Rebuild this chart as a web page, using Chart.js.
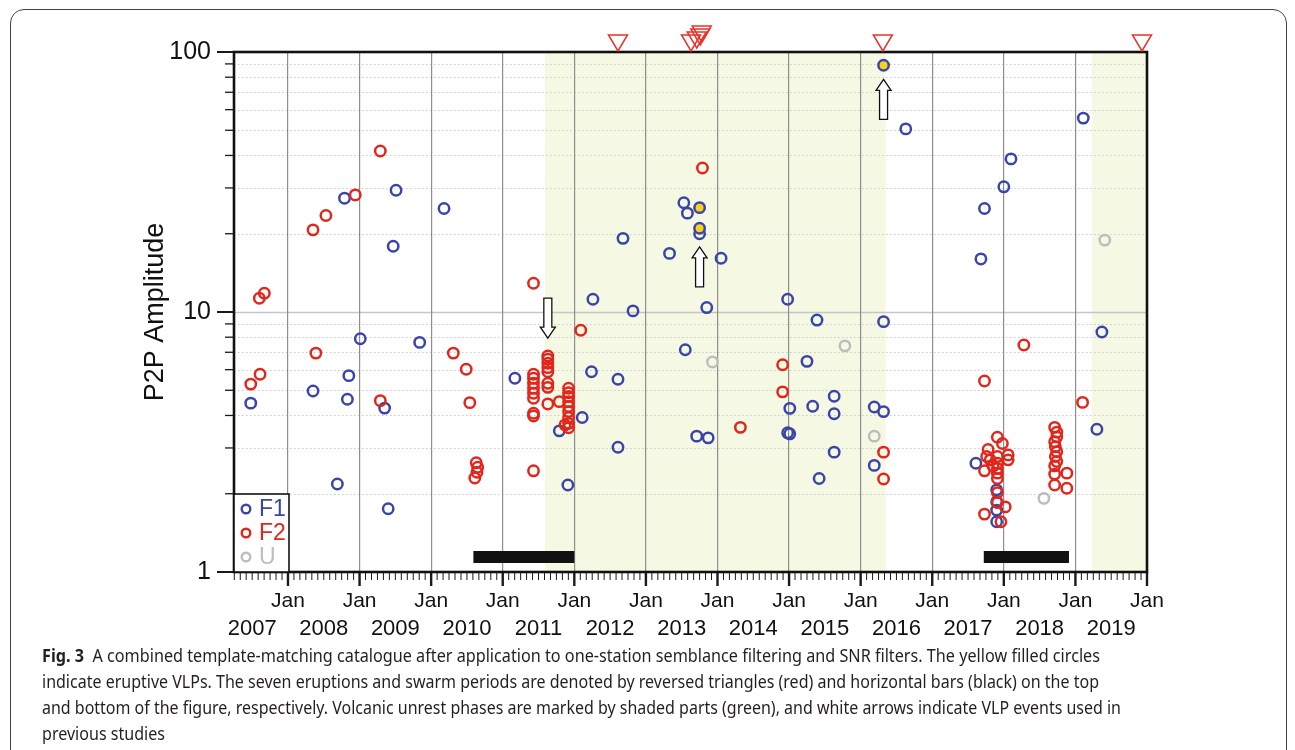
<!DOCTYPE html>
<html><head><meta charset="utf-8">
<script src="https://cdn.jsdelivr.net/npm/chart.js@4.4.0/dist/chart.umd.min.js"></script>
<style>
html,body{margin:0;padding:0;background:#fff;width:1295px;height:750px;overflow:hidden;}
#frame{position:absolute;left:10px;top:9px;width:1277px;height:900px;border:1.3px solid #444;border-radius:14px;box-sizing:border-box;}
#c{position:absolute;left:0;top:0;}
#cap{position:absolute;left:42px;top:642px;font-family:"Noto Sans",sans-serif;font-size:18px;line-height:26px;color:#231f20;}
#cap div{height:26px;}
#cap span{display:inline-block;white-space:nowrap;transform-origin:0 50%;}
</style></head><body>
<div id="frame"></div>
<canvas id="c" width="1295" height="750"></canvas>
<div id="cap">
<div><span data-w="1058"><b>Fig. 3</b>&nbsp; A combined template-matching catalogue after application to one-station semblance filtering and SNR filters. The yellow filled circles</span></div>
<div><span data-w="1057">indicate eruptive VLPs. The seven eruptions and swarm periods are denoted by reversed triangles (red) and horizontal bars (black) on the top</span></div>
<div><span data-w="1079">and bottom of the figure, respectively. Volcanic unrest phases are marked by shaded parts (green), and white arrows indicate VLP events used in</span></div>
<div><span>previous studies</span></div>
</div>
<script>
// ---------- data (decimal year, P2P amplitude) ----------
const f1Year = [2007.48,2008.35,2008.69,2008.79,2008.83,2008.85,2009.01,2009.35,2009.40,2009.47,2009.51,2009.84,2010.18,
  2011.17,2011.79,2011.91,2012.11,2012.24,2012.26,2012.61,2012.61,2012.68,2012.82,2013.33,2013.53,2013.55,2013.58,2013.71,
  2013.75,2013.85,2013.87,2014.05,2014.98,2014.98,2015.01,2015.01,2015.25,2015.33,2015.39,2015.42,2015.63,2015.63,2015.63,
  2016.19,2016.19,2016.32,2016.32,2016.63,2017.61,2017.68,2017.73,2017.90,2017.90,2017.90,2017.90,2018.00,2018.10,2019.11,
  2019.30,2019.37];
const f1Amp = [4.46,4.97,2.18,27.4,4.62,5.69,7.89,4.27,1.75,17.9,29.4,7.64,25.0,
  5.56,3.49,2.16,3.93,5.89,11.2,5.51,3.02,19.2,10.1,16.8,26.3,7.16,24.0,3.33,
  20.0,10.4,3.28,16.1,11.2,3.43,4.26,3.40,6.46,4.34,9.31,2.29,4.74,4.06,2.89,
  4.31,2.57,4.14,9.18,50.6,2.62,16.0,25.0,2.07,1.86,1.73,1.56,30.3,38.8,55.7,
  3.54,8.38];

const f2Year = [2007.48,2007.60,2007.61,2007.67,2008.35,2008.39,2008.53,2008.94,2009.29,2009.29,2010.31,2010.49,2010.54,
  2010.63,2010.65,2010.64,2010.61,
  2011.43,2011.43,2011.43,2011.43,2011.43,2011.43,2011.43,2011.43,2011.43,2011.43,
  2011.63,2011.63,2011.63,2011.63,2011.63,2011.63,2011.63,2011.63,2011.79,
  2011.92,2011.92,2011.92,2011.92,2011.92,2011.92,2011.92,2011.92,2011.92,2011.87,2012.09,
  2013.79,2014.32,2014.91,2014.91,2016.32,2016.32,
  2017.73,2017.91,2017.98,2017.78,2018.06,2018.06,2017.76,2017.81,2017.91,2017.91,2017.91,2017.91,2017.91,2017.73,2017.85,
  2017.91,2017.91,2018.02,2017.73,2017.96,2018.28,
  2018.71,2018.74,2018.74,2018.71,2018.72,2018.74,2018.72,2018.74,2018.71,2018.71,2018.88,2018.71,2018.88,2019.10];
const f2Amp = [5.28,11.3,5.76,11.8,20.7,6.95,23.5,28.2,41.6,4.56,6.95,6.02,4.48,
  2.63,2.53,2.42,2.30,
  12.9,5.76,5.56,5.32,5.09,4.87,4.66,4.08,3.98,2.45,
  6.77,6.58,6.35,6.11,5.89,5.32,5.13,4.43,4.52,
  5.09,4.89,4.73,4.52,4.33,4.14,3.93,3.73,3.59,3.68,8.51,
  35.8,3.60,6.27,4.93,2.89,2.28,
  5.43,3.30,3.12,2.96,2.82,2.70,2.78,2.70,2.78,2.62,2.50,2.40,2.29,2.45,2.55,
  2.02,1.85,1.78,1.67,1.56,7.47,
  3.60,3.45,3.31,3.17,3.03,2.90,2.78,2.66,2.56,2.38,2.40,2.16,2.10,4.49];

const uYear = [2013.93,2015.78,2016.19,2018.56,2019.41];
const uAmp  = [6.42,7.41,3.33,1.92,18.9];

const eruptiveYear = [2013.75,2013.75,2016.32];
const eruptiveAmp  = [25.2,21.0,88.9];

const eruptionYears = [2012.61,2013.63,2013.71,2013.76,2013.78,2016.31,2019.93];
const swarmStart = [2010.59,2017.72];
const swarmEnd   = [2012.00,2018.91];
const unrestStart = [2011.59,2019.23];
const unrestEnd   = [2016.35,2020.00];
const arrowYear = [2011.63,2013.75,2016.32];
const arrowTip  = [7.94,17.8,78.5];
const arrowDir  = ['down','up','up'];

const janTicks = [2008,2009,2010,2011,2012,2013,2014,2015,2016,2017,2018,2019,2020];
const janLabel = 'Jan';
const yearLabels = ['2007','2008','2009','2010','2011','2012','2013','2014','2015','2016','2017','2018','2019'];
const yTicks = [1,10,100];
const xMin = 2007.246, xMax = 2020.0;

// ---------- styles ----------
const BLUE = '#3b45a8', RED = '#e2261c', GRAY = '#bdbdbd', YELLOW = '#f6d21a';
const FONT = '"Liberation Sans", Arial, sans-serif';
const pts = (xs, ys) => xs.map((x, i) => ({x, y: ys[i]}));

const deco = {
  id: 'deco',
  beforeDraw(chart) {
    const {ctx, chartArea: a, scales: {x, y}} = chart;
    ctx.save();
    ctx.fillStyle = '#f5f9e3';
    unrestStart.forEach((s, i) => {
      const p1 = Math.max(a.left, x.getPixelForValue(s));
      const p2 = Math.min(a.right, x.getPixelForValue(unrestEnd[i]));
      ctx.fillRect(p1, a.top, p2 - p1, a.bottom - a.top);
    });
    [1, 10].forEach(d => {
      for (let k = 2; k <= 9; k++) {
        const py = Math.round(y.getPixelForValue(k * d)) + 0.5;
        ctx.strokeStyle = '#c8c8c8'; ctx.lineWidth = 1; ctx.setLineDash([1.5, 2.5]);
        ctx.beginPath(); ctx.moveTo(a.left, py); ctx.lineTo(a.right, py); ctx.stroke();
      }
    });
    ctx.setLineDash([]);
    const p10 = Math.round(y.getPixelForValue(10)) + 0.5;
    ctx.strokeStyle = '#c6c6c6'; ctx.lineWidth = 1.3;
    ctx.beginPath(); ctx.moveTo(a.left, p10); ctx.lineTo(a.right, p10); ctx.stroke();
    ctx.restore();
  },
  afterDatasetsDraw(chart) {
    const {ctx, chartArea: a, scales: {x, y}} = chart;
    ctx.save();
    arrowYear.forEach((yr, i) => {
      const px = x.getPixelForValue(yr);
      const tip = y.getPixelForValue(arrowTip[i]);
      const s = arrowDir[i] === 'up' ? 1 : -1;
      const L = 40, H = 11, hw = 7.5, sw = 4;
      ctx.beginPath();
      ctx.moveTo(px, tip);
      ctx.lineTo(px + hw, tip + s * H);
      ctx.lineTo(px + sw, tip + s * H);
      ctx.lineTo(px + sw, tip + s * L);
      ctx.lineTo(px - sw, tip + s * L);
      ctx.lineTo(px - sw, tip + s * H);
      ctx.lineTo(px - hw, tip + s * H);
      ctx.closePath();
      ctx.fillStyle = '#fff'; ctx.fill();
      ctx.strokeStyle = '#111'; ctx.lineWidth = 1.3; ctx.stroke();
    });
    ctx.fillStyle = '#111';
    swarmStart.forEach((s, i) => {
      const p1 = x.getPixelForValue(s), p2 = x.getPixelForValue(swarmEnd[i]);
      ctx.fillRect(p1, a.bottom - 21, p2 - p1, 12);
    });
    ctx.strokeStyle = '#1a1a1a';
    [1, 10].forEach(d => {
      for (let k = 2; k <= 9; k++) {
        const py = y.getPixelForValue(k * d);
        ctx.lineWidth = 1.3;
        ctx.beginPath(); ctx.moveTo(a.left - 9, py); ctx.lineTo(a.left, py); ctx.stroke();
      }
    });
    yTicks.forEach(v => {
      const py = y.getPixelForValue(v);
      ctx.lineWidth = 2;
      ctx.beginPath(); ctx.moveTo(a.left - 17, py); ctx.lineTo(a.left, py); ctx.stroke();
    });
    for (let m = Math.ceil(xMin * 12); m <= Math.floor(xMax * 12 + 1e-6); m++) {
      const v = m / 12;
      const px = x.getPixelForValue(v);
      const major = m % 12 === 0;
      ctx.lineWidth = major ? 2.4 : 1;
      ctx.beginPath(); ctx.moveTo(px, a.bottom); ctx.lineTo(px, a.bottom + (major ? 14 : 8)); ctx.stroke();
    }
    ctx.lineWidth = 2.6; ctx.strokeStyle = '#111';
    ctx.strokeRect(a.left, a.top, a.right - a.left, a.bottom - a.top);
    ctx.restore();
  },
  afterDraw(chart) {
    const {ctx, chartArea: a, scales: {x}} = chart;
    ctx.save();
    let prev = -1e9, level = 0;
    ctx.strokeStyle = '#e8322a'; ctx.lineWidth = 1.5;
    eruptionYears.forEach(yr => {
      const px = x.getPixelForValue(yr);
      level = (px - prev < 14) ? level + 1 : 0;
      prev = px;
      const apex = a.top - 1 - level * 3;
      ctx.beginPath();
      ctx.moveTo(px - 9.5, apex - 16);
      ctx.lineTo(px + 9.5, apex - 16);
      ctx.lineTo(px, apex);
      ctx.closePath(); ctx.stroke();
    });
    const lx = a.left, ly = a.bottom - 78, lw = 55, lh = 78;
    ctx.fillStyle = '#fff'; ctx.fillRect(lx, ly, lw, lh);
    ctx.strokeStyle = '#111'; ctx.lineWidth = 1.6; ctx.strokeRect(lx, ly, lw, lh);
    const items = [['F1', BLUE], ['F2', RED], ['U', GRAY]];
    ctx.font = '23px ' + FONT; ctx.textBaseline = 'middle';
    items.forEach(([t, c], i) => {
      const cy = ly + 15 + i * 24;
      ctx.beginPath(); ctx.arc(lx + 12, cy, 4.3, 0, Math.PI * 2);
      ctx.strokeStyle = c; ctx.lineWidth = 2.4; ctx.stroke();
      ctx.fillStyle = c; ctx.fillText(t, lx + 25, cy + 1);
    });
    ctx.restore();
  }
};

const common = {showLine: false, pointRadius: 5.2, pointBorderWidth: 2.5, pointHoverRadius: 5.2,
  pointBackgroundColor: 'rgba(0,0,0,0)'};

new Chart(document.getElementById('c'), {
  type: 'scatter',
  data: {datasets: [
    Object.assign({}, common, {label: 'Eruptive', data: pts(eruptiveYear, eruptiveAmp), pointBorderColor: BLUE, pointBackgroundColor: YELLOW, order: 0}),
    Object.assign({}, common, {label: 'F2', data: pts(f2Year, f2Amp), pointBorderColor: RED, order: 1}),
    Object.assign({}, common, {label: 'F1', data: pts(f1Year, f1Amp), pointBorderColor: BLUE, order: 2}),
    Object.assign({}, common, {label: 'U', data: pts(uYear, uAmp), pointBorderColor: GRAY, order: 3})
  ]},
  options: {
    responsive: false, animation: false, devicePixelRatio: 1, events: [],
    layout: {padding: {left: 0, top: 52, right: 148, bottom: 88}},
    plugins: {legend: {display: false}, tooltip: {enabled: false}},
    scales: {
      x: {type: 'linear', position: 'bottom', min: xMin, max: xMax, weight: 0,
        afterBuildTicks: s => { s.ticks = janTicks.map(v => ({value: v})); },
        afterFit: s => { s.height = 40; },
        ticks: {callback: () => janLabel, font: {family: FONT, size: 21}, color: '#111', padding: 17, maxRotation: 0, autoSkip: false},
        grid: {color: '#8e8e8e', lineWidth: 1.2, drawTicks: false},
        border: {display: false}},
      x2: {type: 'linear', position: 'bottom', min: xMin, max: xMax, weight: 1,
        afterBuildTicks: s => { s.ticks = yearLabels.map(t => ({value: Number(t) + 0.5})); },
        afterFit: s => { s.height = 50; },
        ticks: {callback: (v, i) => yearLabels[i], font: {family: FONT, size: 22}, color: '#111', padding: 4, maxRotation: 0, autoSkip: false},
        grid: {display: false, drawTicks: false},
        border: {display: false}},
      y: {type: 'logarithmic', min: 1, max: 100,
        afterBuildTicks: s => { s.ticks = yTicks.map(v => ({value: v})); },
        afterFit: s => { s.width = 234; },
        ticks: {callback: v => String(v), font: {family: FONT, size: 25}, color: '#111', padding: 23, autoSkip: false},
        grid: {display: false, drawTicks: false},
        border: {display: false},
        title: {display: true, text: 'P2P Amplitude', font: {family: FONT, size: 27}, color: '#111', padding: {top: 139, bottom: 0}}}
    }
  },
  plugins: [deco]
});

const spans = [...document.querySelectorAll('#cap span')];
let scales = [];
spans.forEach(sp => {
  const w = sp.getBoundingClientRect().width;
  const t = sp.dataset.w ? Number(sp.dataset.w) : null;
  if (t) { const k = t / w; scales.push(k); sp.style.transform = 'scaleX(' + k + ')'; }
});
const avg = scales.reduce((p, c) => p + c, 0) / scales.length;
spans.forEach(sp => { if (!sp.dataset.w) sp.style.transform = 'scaleX(' + avg + ')'; });
</script>
</body></html>
